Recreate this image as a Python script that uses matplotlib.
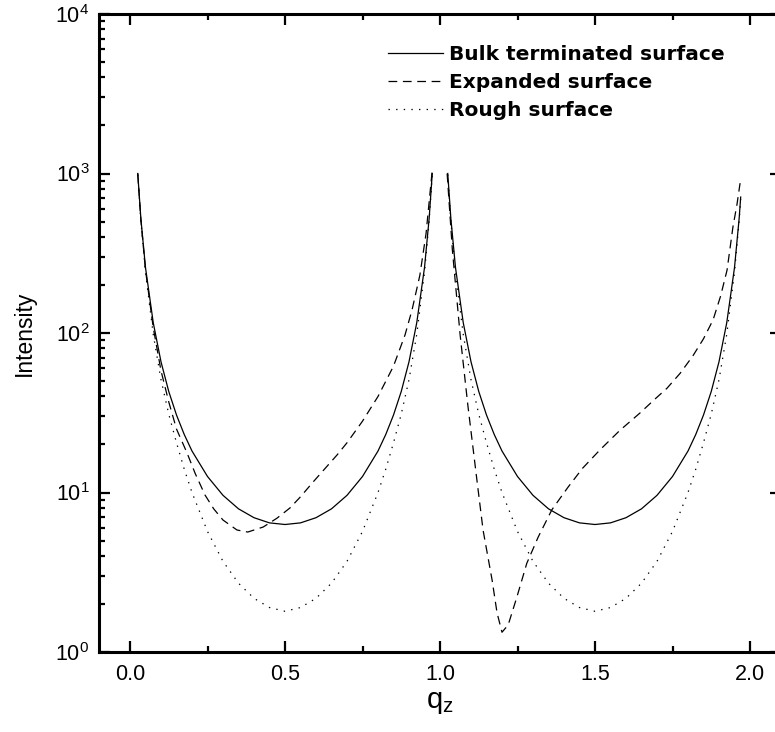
import matplotlib
matplotlib.use("Agg")
import matplotlib.pyplot as plt
from matplotlib.ticker import MultipleLocator, LogLocator, NullFormatter

plt.rcParams["font.family"] = ["Liberation Sans", "DejaVu Sans"]
plt.rcParams["mathtext.default"] = "regular"

# values (q_z, intensity)
q_left = [0.025, 0.035, 0.05, 0.075, 0.1, 0.125, 0.15, 0.175, 0.2, 0.25, 0.3, 0.35, 0.4, 0.45, 0.5,
          0.55, 0.6, 0.65, 0.7, 0.75, 0.8, 0.825, 0.85, 0.875, 0.9, 0.925, 0.95, 0.965, 0.975]
bulk_left = [1000, 523, 257, 116, 66, 43, 30.6, 23.1, 18.2, 12.6, 9.6, 7.9, 6.95, 6.45, 6.3,
             6.45, 6.95, 7.9, 9.6, 12.6, 18.2, 23.1, 30.6, 43, 66, 116, 257, 523, 1000]
rough_left = [985, 505, 240, 98, 51, 31, 20.5, 14, 10, 5.7, 3.7, 2.7, 2.17, 1.9, 1.8,
              1.9, 2.17, 2.7, 3.7, 5.7, 10, 14, 20.5, 31, 51, 98, 240, 505, 985]

q_right = [1.025, 1.035, 1.05, 1.075, 1.1, 1.125, 1.15, 1.175, 1.2, 1.25, 1.3, 1.35, 1.4, 1.45, 1.5,
           1.55, 1.6, 1.65, 1.7, 1.75, 1.8, 1.825, 1.85, 1.875, 1.9, 1.925, 1.95, 1.965, 1.97]
bulk_right = [1000, 523, 257, 116, 66, 43, 30.6, 23.1, 18.2, 12.6, 9.6, 7.9, 6.95, 6.45, 6.3,
              6.45, 6.95, 7.9, 9.6, 12.6, 18.2, 23.1, 30.6, 43, 66, 116, 257, 523, 712]
rough_right = [985, 505, 240, 98, 51, 31, 20.5, 14, 10, 5.7, 3.7, 2.7, 2.17, 1.9, 1.8,
               1.9, 2.17, 2.7, 3.7, 5.7, 10, 14, 20.5, 31, 51, 98, 240, 505, 690]

q_exp_left = [0.025, 0.035, 0.05, 0.075, 0.1, 0.125, 0.15, 0.184, 0.21, 0.242, 0.27, 0.3, 0.345, 0.38,
              0.43, 0.474, 0.516, 0.55, 0.59, 0.63, 0.668, 0.7, 0.75, 0.8, 0.85, 0.887, 0.91, 0.935,
              0.955, 0.975]
exp_left = [1000, 515, 248, 108, 58, 37, 25, 17.7, 13.2, 9.64, 7.9, 6.72, 5.82, 5.65,
            6.08, 6.9, 8.0, 9.4, 11.6, 14.2, 17.2, 20.5, 28, 40, 62, 97, 140, 230,
            420, 1050]

q_exp_right = [1.023, 1.04, 1.065, 1.09, 1.119, 1.139, 1.168, 1.184, 1.2, 1.22, 1.248, 1.28, 1.317,
               1.361, 1.413, 1.46, 1.516, 1.58, 1.645, 1.69, 1.732, 1.775, 1.816, 1.85, 1.881,
               1.905, 1.926, 1.945, 1.958, 1.968]
exp_right = [1000, 330, 97, 35, 12, 5.8, 2.83, 1.76, 1.33, 1.48, 2.21, 3.6, 5.27,
             7.8, 10.8, 14.2, 18.5, 24.5, 31.5, 38, 45, 56, 72, 92, 121,
             170, 248, 463, 640, 870]

fig = plt.figure(figsize=(7.75, 7.32), dpi=100)
ax = fig.add_axes([99 / 775, 1 - 652 / 732, 682 / 775, 638 / 732])

lw = 0.9
ax.plot(q_left, bulk_left, color="black", lw=lw, label="Bulk terminated surface")
ax.plot(q_right, bulk_right, color="black", lw=lw)
ax.plot(q_exp_left, exp_left, color="black", lw=lw, dashes=(7, 4.5), label="Expanded surface")
ax.plot(q_exp_right, exp_right, color="black", lw=lw, dashes=(7, 4.5))
ax.plot(q_left, rough_left, color="black", lw=lw, dashes=(1.1, 5), label="Rough surface")
ax.plot(q_right, rough_right, color="black", lw=lw, dashes=(1.1, 5))

ax.set_yscale("log")
ax.set_xlim(-0.1, 2.1)
ax.set_ylim(1, 1e4)

ax.xaxis.set_major_locator(MultipleLocator(0.5))
ax.xaxis.set_minor_locator(MultipleLocator(0.25))
ax.yaxis.set_major_locator(LogLocator(base=10, numticks=10))
ax.yaxis.set_minor_locator(LogLocator(base=10, subs=range(2, 10), numticks=20))
ax.yaxis.set_minor_formatter(NullFormatter())

ax.tick_params(which="both", direction="in", top=True, right=True, width=1.6, colors="black")
ax.tick_params(which="major", length=8, labelsize=15.5, pad=7)
ax.tick_params(which="minor", length=4.5)
ax.tick_params(axis="x", which="major", pad=9)

for sp in ax.spines.values():
    sp.set_linewidth(2.2)

ax.set_xlabel("q$_z$", fontsize=21, labelpad=2)
ax.set_ylabel("Intensity", fontsize=16.5, labelpad=14)

leg = ax.legend(loc="upper left", bbox_to_anchor=(0.424, 0.952), frameon=False,
                prop={"family": "DejaVu Sans", "weight": "bold", "size": 14.5},
                handlelength=2.7, handletextpad=0.3,
                labelspacing=0.45, borderpad=0, borderaxespad=0)

fig.savefig("out.png", dpi=100)
